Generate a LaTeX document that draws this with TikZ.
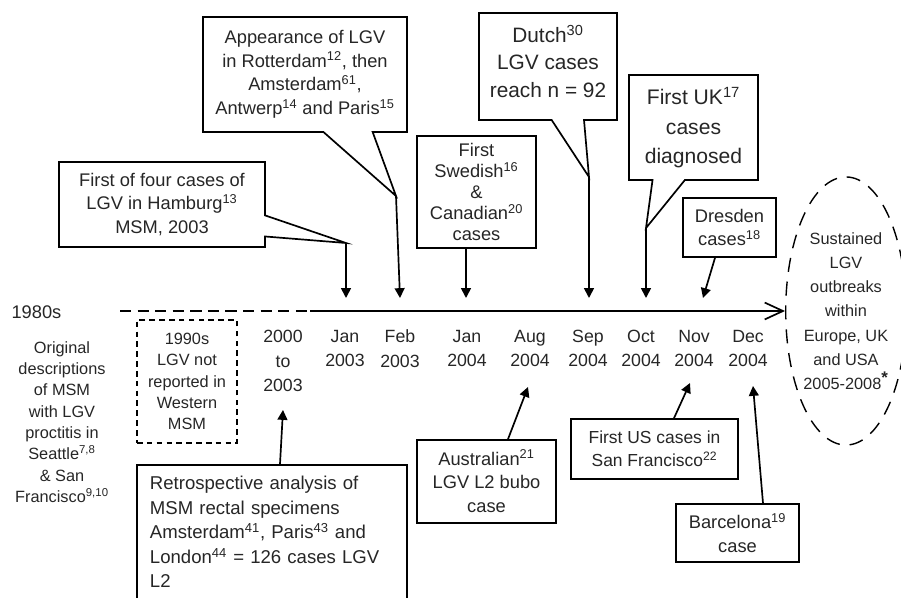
\documentclass[tikz,border=0pt]{standalone}
\usepackage{fontspec}
\setmainfont{Liberation Sans}
\usepackage{tikz}
\usetikzlibrary{arrows.meta,shapes.geometric,shapes.callouts,calc}
\tikzset{
  lbl/.style={font=\fontsize{13}{17}\selectfont, align=center, text=black!85},
  smalltxt/.style={lbl, font=\fontsize{11.6}{15.2}\selectfont},
  datetxt/.style={lbl, font=\fontsize{12.6}{17.5}\selectfont},
  box/.style={lbl, draw, line width=1.2pt, fill=white, inner sep=2pt},
  bubble/.style={box, rectangle callout},
  arr/.style={line width=1.2pt, -{Triangle[length=7pt,width=7pt]}}
}

\begin{document}
\begin{tikzpicture}[x=0.025cm, y=-0.025cm, line width=1.2pt]
  \useasboundingbox (0,0) rectangle (901,598);
  \clip (0,0) rectangle (901,598);

  % ---------- time axis ----------
  \coordinate (ax0) at (120,311);
  \coordinate (axm) at (310,311);
  \node[smalltxt, font=\fontsize{11.6}{17.2}\selectfont, ellipse, draw, line width=1pt,
        dash pattern=on 10pt off 7pt, minimum width=2.7cm, minimum height=6.7cm, inner sep=0pt]
        (outbrk) at (846,311)
        {Sustained\\LGV\\outbreaks\\within\\Europe, UK\\and USA\\2005-2008\textsuperscript{\large\textbf{*}}};
  \draw[dash pattern=on 8pt off 4.5pt] (ax0) -- (axm);
  \draw[-{Straight Barb[length=13pt,width=12pt]}] (axm) -- (outbrk.west);

  \node[lbl, anchor=west] (yr80) at (6,312) {1980s};
  \node[smalltxt] (orig) at (62,422)
        {Original\\descriptions\\of MSM\\with LGV\\proctitis in\\Seattle\textsuperscript{7,8}\\\& San\\Francisco\textsuperscript{9,10}};
  \node[smalltxt, draw, line width=0.9pt, dash pattern=on 4pt off 3pt,
        minimum width=2.5cm, minimum height=3.075cm] (nineties) at (187,381.5)
        {1990s\\LGV not\\reported in\\Western\\MSM};
  \node[datetxt] (d0) at (283,361) {2000\\to\\2003};

  % dates under the axis
  \foreach \xd/\mon/\yr [count=\i] in {345/Jan/2003, 400/Feb/2003, 467/Jan/2004, 530/Aug/2004,
                                       588/Sep/2004, 641/Oct/2004, 694/Nov/2004, 748/Dec/2004}
    \node[datetxt] (d\i) at (\xd,348.5) {\mon\\\yr};

  % ---------- events above the axis ----------
  \coordinate (tip-ham) at (346,243);
  \coordinate (t-ham) at (346,298);
  \node[bubble, callout absolute pointer={(tip-ham)}, callout pointer width=15pt,
        minimum width=5.15cm, minimum height=2.125cm] (ham) at (162,204.5)
        {First of four cases of\\LGV in Hamburg\textsuperscript{13}\\MSM, 2003};
  \draw[arr] (tip-ham) -- (t-ham);

  \coordinate (tip-app) at (396,196);
  \coordinate (t-app) at (400,298);
  \node[bubble, callout absolute pointer={(tip-app)}, callout pointer width=35pt,
        minimum width=5.1cm, minimum height=2.875cm] (app) at (305,74.5)
        {Appearance of LGV\\in Rotterdam\textsuperscript{12}, then\\Amsterdam\textsuperscript{61},\\Antwerp\textsuperscript{14} and Paris\textsuperscript{15}\\[-14pt]};
  \draw[arr] (tip-app) -- (t-app);

  \coordinate (t-swe) at (466,298);
  \node[box, font=\fontsize{13}{15}\selectfont, minimum width=2.975cm, minimum height=2.8cm]
        (swe) at (476.5,192)
        {First\\Swedish\textsuperscript{16}\\\&\\Canadian\textsuperscript{20}\\cases};
  \draw[arr] (swe.south -| t-swe) -- (t-swe);

  \coordinate (tip-dut) at (589,177);
  \coordinate (t-dut) at (589,298);
  \node[bubble, font=\fontsize{14.8}{19.5}\selectfont, callout absolute pointer={(tip-dut)},
        callout pointer width=23pt, minimum width=3.45cm, minimum height=2.675cm] (dut) at (548,66.5)
        {Dutch\textsuperscript{30}\\LGV cases\\reach n = 92\\[-12pt]};
  \draw[arr] (tip-dut) -- (t-dut);

  \coordinate (tip-uk) at (646,228);
  \coordinate (t-uk) at (646,298);
  \node[bubble, font=\fontsize{15}{21}\selectfont, callout absolute pointer={(tip-uk)},
        callout pointer width=23pt, minimum width=3.225cm, minimum height=2.625cm] (uk) at (693.5,127.5)
        {First UK\textsuperscript{17}\\cases\\diagnosed};
  \draw[arr] (tip-uk) -- (t-uk);

  \coordinate (t-dre) at (703,298);
  \node[box, minimum width=2.325cm, minimum height=1.475cm] (dre) at (729.5,227.5)
        {Dresden\\cases\textsuperscript{18}};
  \draw[arr] ($(dre.south)+(-14.5,0)$) -- (t-dre);

  % ---------- events below the axis ----------
  \coordinate (t-retro) at (283,410);
  \node[box, align=left, font=\fontsize{13.2}{17.4}\selectfont, text width=6.1cm,
        inner xsep=0.325cm, minimum height=3.35cm] (retro) at (272,532)
        {Retrospective analysis of\\MSM rectal specimens\\Amsterdam\textsuperscript{41}, Paris\textsuperscript{43} and\\London\textsuperscript{44} = 126 cases LGV\\L2};
  \draw[arr] ($(retro.north)+(8,0)$) -- (t-retro);

  \coordinate (t-aus) at (528,387);
  \node[box, minimum width=3.475cm, minimum height=2.075cm] (aus) at (486.5,481.5)
        {Australian\textsuperscript{21}\\LGV L2 bubo\\case};
  \draw[arr] ($(aus.north)+(21.5,0)$) -- (t-aus);

  \coordinate (t-us) at (690,383);
  \node[box, font=\fontsize{12.4}{16.5}\selectfont, minimum width=4.175cm, minimum height=1.5cm]
        (us) at (654.5,449) {First US cases in\\San Francisco\textsuperscript{22}};
  \draw[arr] ($(us.north)+(19.5,0)$) -- (t-us);

  \coordinate (t-bar) at (753,386);
  \node[box, minimum width=3.075cm, minimum height=1.45cm] (bar) at (737.5,533)
        {Barcelona\textsuperscript{19}\\case};
  \draw[arr] ($(bar.north)+(25.5,0)$) -- (t-bar);

\end{tikzpicture}
\end{document}
